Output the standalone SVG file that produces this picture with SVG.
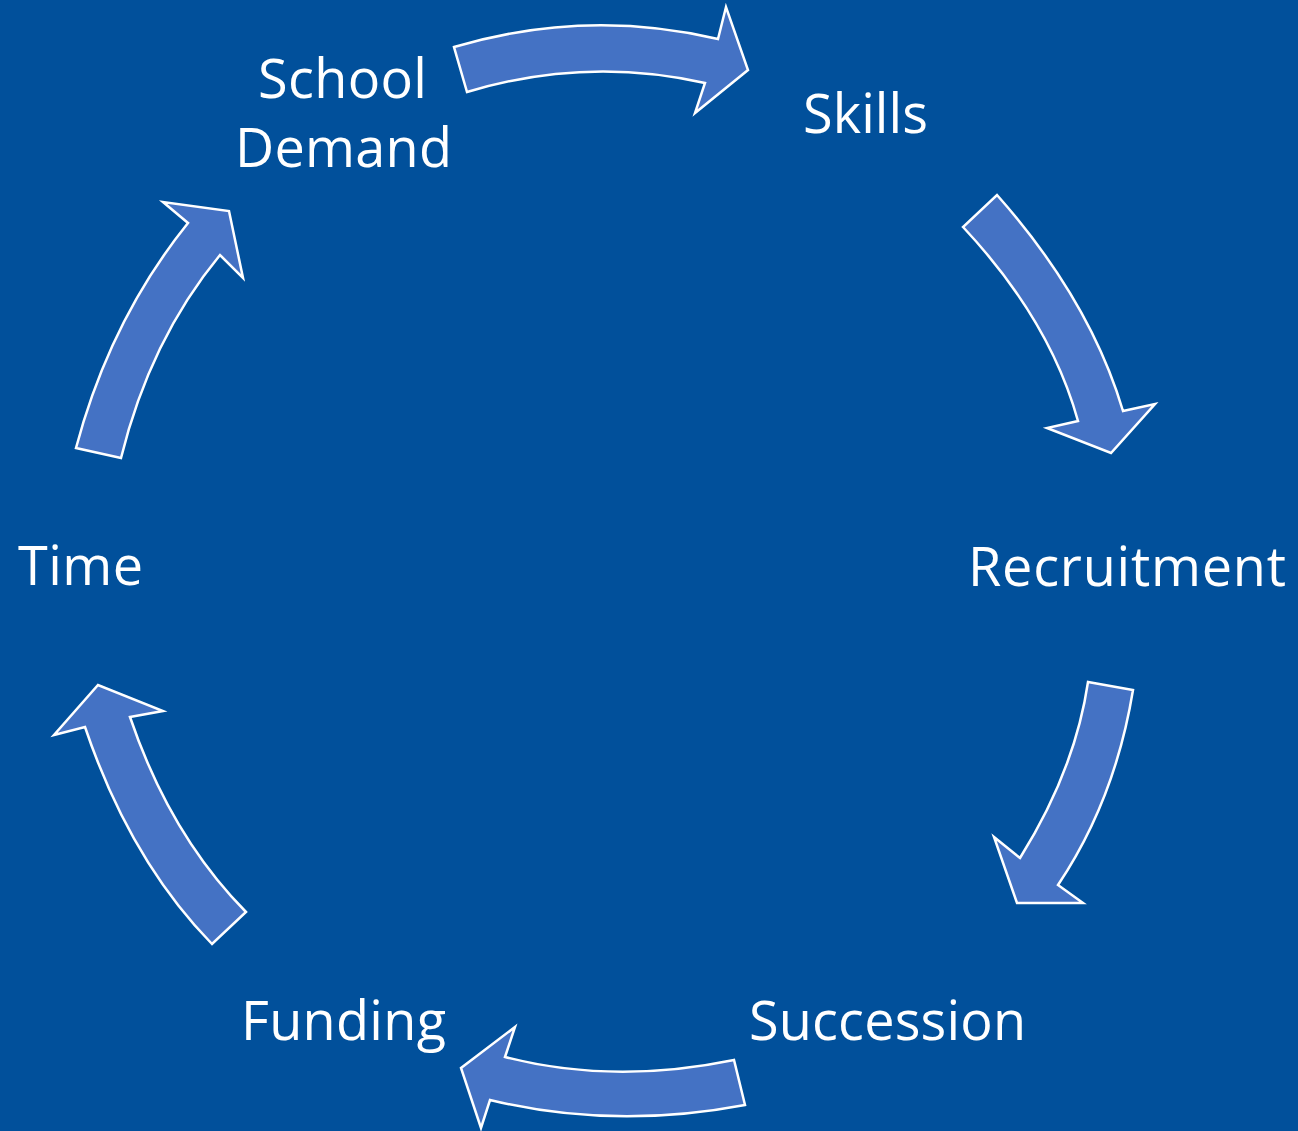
<svg xmlns="http://www.w3.org/2000/svg" width="1298" height="1131" viewBox="0 0 1298 1131">
<style>
.bg{fill:#01509B}
.arr{fill:#4472C4;stroke:#FFFFFF;stroke-width:2.5;stroke-linejoin:miter}
.lbl{font-family:"Open Sans","Noto Sans","Liberation Sans",sans-serif;font-size:54px;fill:#FFFFFF}
</style>
<rect class="bg" x="0" y="0" width="1298" height="1131"/>
<g id="connectors">
<path class="arr" d="M454,47 Q586,8 718,39 L726,7 L748,70 L695,113 L705,83 Q586,56 467,92 Z"/>
<path class="arr" d="M997,195 Q1090,300 1123,411 L1155,404 L1111,453 L1047,428 L1078,421 Q1050,320 963,227 Z"/>
<path class="arr" d="M1133,690 Q1115,800 1058,885 L1083,903 L1017,903 L994,837 L1020,858 Q1075,770 1088,682 Z"/>
<path class="arr" d="M734,1060 Q613,1085 505,1057 L515,1027 L461,1068 L481,1128 L490,1100 Q613,1130 745,1105 Z"/>
<path class="arr" d="M212,944 Q130,860 85,727 L54,735 L98,685 L163,711 L130,717 Q170,835 246,912 Z"/>
<path class="arr" d="M76,448 Q110,320 188,223 L163,202 L229,211 L243,278 L220,255 Q150,340 121,458 Z"/>
</g>
<g id="node-school-demand"><text class="lbl" x="258" y="98" textLength="169">School</text><text class="lbl" x="235" y="167" textLength="217">Demand</text></g>
<g id="node-skills"><text class="lbl" x="803" y="133" textLength="125">Skills</text></g>
<g id="node-recruitment"><text class="lbl" x="968" y="586" textLength="318">Recruitment</text></g>
<g id="node-succession"><text class="lbl" x="749" y="1040" textLength="277">Succession</text></g>
<g id="node-funding"><text class="lbl" x="241" y="1040" textLength="205">Funding</text></g>
<g id="node-time"><text class="lbl" x="18" y="585" textLength="125">Time</text></g>
</svg>
